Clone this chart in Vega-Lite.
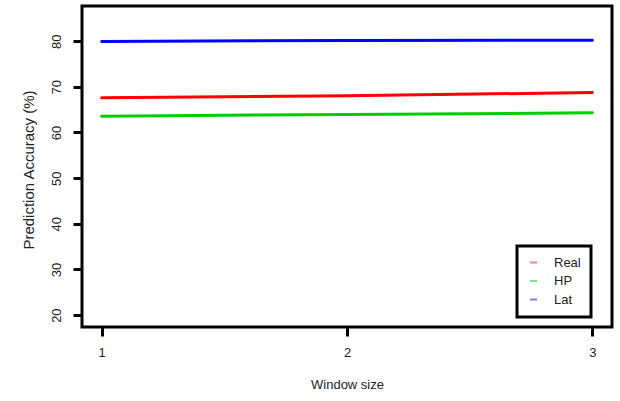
{
  "$schema": "https://vega.github.io/schema/vega-lite/v6.json",
  "width": 530,
  "height": 321,
  "autosize": {"type": "none"},
  "padding": {"left": 82, "top": 6, "right": 8, "bottom": 74},
  "background": "white",
  "config": {
    "view": {"stroke": "black", "strokeWidth": 3},
    "font": "Liberation Sans",
    "axis": {
      "domain": false,
      "grid": false,
      "ticks": true,
      "tickColor": "black",
      "tickWidth": 3,
      "tickSize": 9,
      "labelColor": "#222222",
      "labelFont": "Liberation Sans",
      "labelFontSize": 13,
      "labelPadding": 10,
      "titleFont": "Liberation Sans",
      "titleFontSize": 13,
      "titleFontWeight": "normal",
      "titleColor": "#222222"
    }
  },
  "data": {
    "values": [
      {"window": 1, "series": "Real", "accuracy": 67.58},
      {"window": 2, "series": "Real", "accuracy": 68.02},
      {"window": 3, "series": "Real", "accuracy": 68.76},
      {"window": 1, "series": "HP", "accuracy": 63.57},
      {"window": 2, "series": "HP", "accuracy": 63.95},
      {"window": 3, "series": "HP", "accuracy": 64.3},
      {"window": 1, "series": "Lat", "accuracy": 79.93},
      {"window": 2, "series": "Lat", "accuracy": 80.15},
      {"window": 3, "series": "Lat", "accuracy": 80.2}
    ]
  },
  "mark": {"type": "line", "strokeWidth": 3, "strokeCap": "round", "clip": true},
  "encoding": {
    "x": {
      "field": "window",
      "type": "quantitative",
      "scale": {"domain": [0.92, 3.08], "nice": false, "zero": false},
      "axis": {
        "values": [1, 2, 3],
        "format": "d",
        "title": "Window size",
        "titleY": 61,
        "titleBaseline": "alphabetic"
      }
    },
    "y": {
      "field": "accuracy",
      "type": "quantitative",
      "scale": {"domain": [17.4, 87.7], "nice": false, "zero": false},
      "axis": {
        "values": [20, 30, 40, 50, 60, 70, 80],
        "labelAngle": -90,
        "labelAlign": "center",
        "labelBaseline": "bottom",
        "title": "Prediction Accuracy (%)",
        "titleFontSize": 15,
        "titleX": -49,
        "titleY": 163.5,
        "titleBaseline": "alphabetic"
      }
    },
    "color": {
      "field": "series",
      "type": "nominal",
      "scale": {"domain": ["Real", "HP", "Lat"], "range": ["#FF0000", "#00CD00", "#0000FF"]},
      "legend": {
        "title": null,
        "orient": "none",
        "legendX": 435,
        "legendY": 240,
        "strokeColor": "black",
        "fillColor": "white",
        "padding": 10,
        "symbolType": "stroke",
        "symbolSize": 49,
        "symbolStrokeWidth": 2,
        "symbolOpacity": 0.5,
        "labelOffset": 14,
        "labelFont": "Liberation Sans",
        "labelFontSize": 13,
        "labelColor": "#222222",
        "rowPadding": 4.5,
        "encode": {"legend": {"update": {"strokeWidth": {"value": 3}}}}
      }
    }
  }
}
